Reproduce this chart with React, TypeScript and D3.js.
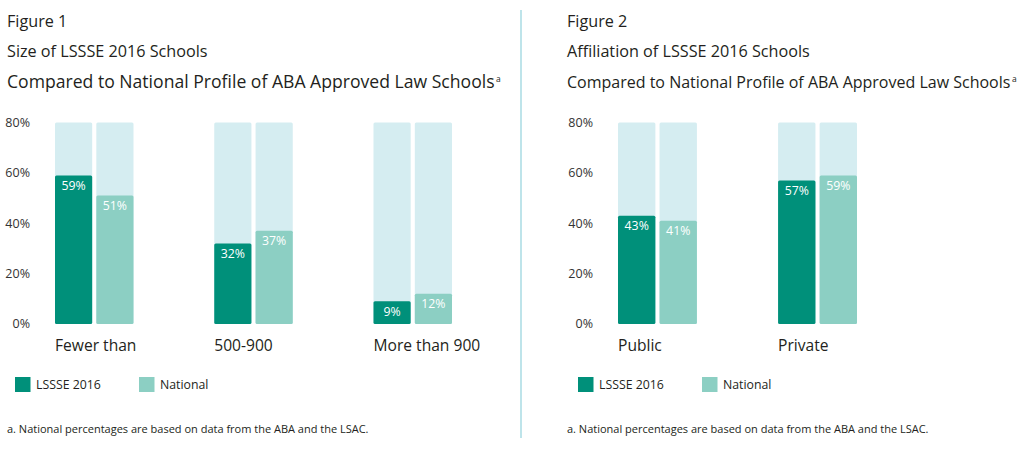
import React from "react";
import * as d3 from "d3";

const series = ["LSSSE 2016", "National"];
const sizeCategories = ["Fewer than", "500-900", "More than 900"];
const sizeLSSSE = [59, 32, 9];
const sizeNational = [51, 37, 12];
const affCategories = ["Public", "Private"];
const affLSSSE = [43, 57];
const affNational = [41, 59];
const yTicks = [0, 20, 40, 60, 80];
const yMax = 80;

const COLORS = ["#00907a", "#8ccfc3"];
const BG = "#d5edf1";
const FONT = "'Open Sans', 'Noto Sans', sans-serif";
const TXT = "#231f20";

type PanelProps = {
  x0: number;
  title: string[];
  titleSizes: number[];
  categories: string[];
  a: number[];
  b: number[];
  barStart: number;
  barEnd: number;
  axisRight: number;
  legendX: number[];
};

function Panel({ x0, title, titleSizes, categories, a, b, barStart, barEnd, axisRight, legendX }: PanelProps) {
  const y = d3.scaleLinear().domain([0, yMax]).range([324, 122.5]);
  const x = d3.scaleBand<string>().domain(categories).range([barStart, barEnd]).paddingInner(0.507).paddingOuter(0);
  const xi = d3.scaleBand<string>().domain(series).range([0, x.bandwidth()]).paddingInner(0.1);
  const vals = [a, b];
  return (
    <g>
      {title.map((t, i) => (
        <text key={i} x={x0} y={26.5 + i * 30.5} fontSize={titleSizes[i]} fill={TXT} fontFamily={FONT}>
          {t}
          {i === 2 ? (
            <tspan fontSize={8.5} dx={1.5} dy={-6}>
              a
            </tspan>
          ) : null}
        </text>
      ))}
      {yTicks.map((t) => (
        <text key={t} x={axisRight} y={y(t)} dy="0.35em" textAnchor="end" fontSize={12.5} fill="#333" fontFamily={FONT}>
          {t}%
        </text>
      ))}
      {categories.map((c, ci) => (
        <g key={c}>
          {series.map((s, si) => {
            const bx = (x(c) as number) + (xi(s) as number);
            const v = vals[si][ci];
            return (
              <g key={s}>
                <rect x={bx} y={y(yMax)} width={xi.bandwidth()} height={y(0) - y(yMax)} fill={BG} rx={1.5} />
                <rect x={bx} y={y(v)} width={xi.bandwidth()} height={y(0) - y(v)} fill={COLORS[si]} rx={1.5} />
                <text x={bx + xi.bandwidth() / 2} y={y(v) + 14.5} textAnchor="middle" fontSize={12.3} fill="#fff" fontFamily={FONT}>
                  {v}%
                </text>
              </g>
            );
          })}
          <text x={x(c) as number} y={351} fontSize={15.6} fill={TXT} fontFamily={FONT}>
            {c}
          </text>
        </g>
      ))}
      {series.map((s, si) => (
        <g key={s}>
          <rect x={legendX[si]} y={377} width={15.5} height={15} fill={COLORS[si]} />
          <text x={legendX[si] + 21} y={389} fontSize={12.3} fill={TXT} fontFamily={FONT}>
            {s}
          </text>
        </g>
      ))}
      <text x={x0} y={433} fontSize={11} fill={TXT} fontFamily={FONT}>
        a. National percentages are based on data from the ABA and the LSAC.
      </text>
    </g>
  );
}

export default function App() {
  return (
    <svg width={1024} height={449} style={{ position: "absolute", left: 0, top: 0, background: "#fff" }}>
      <Panel
        x0={7}
        title={["Figure 1", "Size of LSSSE 2016 Schools", "Compared to National Profile of ABA Approved Law Schools"]}
        titleSizes={[16.2, 16.2, 17.6]}
        categories={sizeCategories}
        a={sizeLSSSE}
        b={sizeNational}
        barStart={55}
        barEnd={452}
        axisRight={30}
        legendX={[15, 139]}
      />
      <line x1={521} x2={521} y1={10} y2={438} stroke="#a9dbe3" strokeWidth={1.5} />
      <Panel
        x0={567}
        title={["Figure 2", "Affiliation of LSSSE 2016 Schools", "Compared to National Profile of ABA Approved Law Schools"]}
        titleSizes={[16.2, 16.2, 16]}
        categories={affCategories}
        a={affLSSSE}
        b={affNational}
        barStart={618}
        barEnd={857}
        axisRight={593}
        legendX={[578, 702]}
      />
    </svg>
  );
}
